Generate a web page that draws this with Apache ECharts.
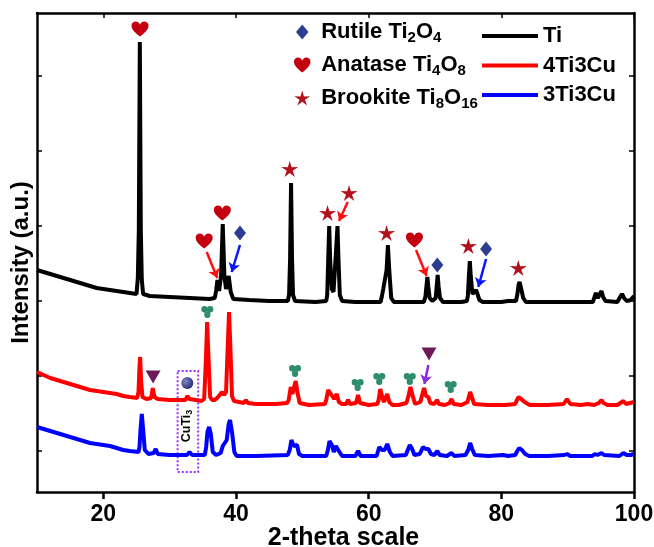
<!DOCTYPE html>
<html>
<head>
<meta charset="utf-8">
<script src="https://cdn.jsdelivr.net/npm/echarts@6/dist/echarts.min.js"></script>
<style>html,body{margin:0;padding:0;background:#fff}#c{width:654px;height:547px}</style>
</head>
<body>
<div id="c"></div>
<script>
// ---- data (2-theta in degrees, intensity in arbitrary units) ----
const xTicks = [20, 40, 60, 80, 100];
const yTicks = [41, 116, 191, 266, 341, 416];

const ti = [
 [10,222],[11,220],[12,218],[13,216],[14,214],[15,212],[16,210],[17,208],[18,206],[19,204],[20,203],[21,202],[22,201],[23,200],[24,199],[25.0,198],
 [25.2,214],[25.35,262],[25.5,450],[25.65,262],[25.8,212],[26.0,198],[27,196],[30,195],[33,194],[36,193],
 [36.8,194],[37.0,201],[37.2,212],[37.45,201],[37.75,216],[38.0,268],[38.25,216],[38.5,203],[38.9,216],[39.2,200],[39.6,193],
 [42,192],[45,191],[47.8,191],[48.0,197],[48.15,232],[48.3,309],[48.45,232],[48.6,197],[48.9,191],
 [52,190],[53.6,191],[53.75,197],[53.9,232],[54.05,266],[54.2,232],[54.45,203],[54.7,200],[55.0,232],[55.3,266],[55.45,232],[55.65,197],[56,191],
 [58,190],[61.8,190],[62.0,196],[62.2,203],[62.45,202],[62.7,222],[62.9,247],[63.1,222],[63.4,194],[63.8,190],
 [66,190],[68.3,190],[68.55,195],[68.7,205],[68.85,215],[69.0,205],[69.2,194],[69.6,191],[70.1,194],[70.25,205],[70.4,217],[70.55,205],[70.75,194],[71.2,190],
 [74,190],[74.8,191],[74.95,196],[75.1,215],[75.25,231],[75.4,215],[75.65,198],[75.9,197],[76.2,202],[76.4,201],[76.7,192],[77.2,190],
 [80,190],[81,191],[82.2,191],[82.4,197],[82.6,207],[82.75,210],[83.0,203],[83.3,194],[83.7,190],
 [87,190],[90,190],[93.8,190],[94.0,194],[94.25,199],[94.55,194],[94.85,196],[95.1,201],[95.35,195],[95.7,191],
 [97.5,190],[97.9,195],[98.2,198],[98.5,194],[98.9,191],[99.5,192],[100,196]
];

const cu4 = [
 [10,120],[11,117],[12,114],[13,112],[14,110],[15,108],[16,106],[17,104],[18,102],[19,101],[20,100],[21,99],[22,98],[23,96],[24,95],[25.1,94],
 [25.3,100],[25.45,125],[25.55,135],[25.7,110],[25.9,95],[26.5,93],[27.2,94],[27.45,104],[27.7,95],[28.2,93],
 [30,92],[32.4,92],[32.65,96],[32.8,98],[33.0,93],[34.8,91],
 [35.2,93],[35.45,130],[35.65,170],[35.85,135],[36.1,95],[36.4,92],[36.8,92],[37.3,95],[37.6,94],[37.9,100],[38.2,97],
 [38.5,100],[38.75,145],[38.95,180],[39.15,145],[39.4,96],[39.7,91],[41.2,89],[41.5,92],[41.8,89],
 [43,88],[46,88],[47.7,89],[47.95,92],[48.25,105],[48.5,98],[48.8,106],[49.0,111],[49.25,100],[49.6,89],
 [51,87],[53.4,88],[53.6,92],[53.9,102],[54.2,99],[54.5,100],[54.8,93],[55.2,98],[55.5,90],[56.0,88],
 [56.6,88],[56.9,92],[57.2,88],[58.1,89],[58.4,97],[58.7,89],[60,87],[61.3,88],
 [61.5,92],[61.75,103],[62.0,96],[62.3,90],[62.8,98],[63.1,90],[63.6,87],[64.5,87],[65.7,89],
 [66.0,96],[66.3,105],[66.6,97],[67.0,88],[67.8,90],[68.1,98],[68.35,104],[68.65,96],[69.0,95],[69.3,89],[69.9,88],[70.3,92],[70.6,88],
 [71.5,87],[72.2,89],[72.5,93],[72.8,88],[74,87],[74.9,90],[75.1,95],[75.3,100],[75.55,95],[75.9,88],
 [78,87],[80,87],[80.3,88],[80.6,87],[82.1,88],[82.35,92],[82.6,95],[83.0,93],[83.5,90],[84.3,87],
 [87,87],[89.4,88],[89.9,93],[90.4,88],[92,87],[93,88],[94.0,87],[94.7,89],[95.1,92],[95.4,89],[96,87],
 [97.5,87],[98.4,91],[98.8,88],[99.4,89],[100,90]
];

const cu3 = [
 [10,65],[11,63],[12,61],[13,59],[14,57],[15,55],[16,53],[17,51],[18,49],[19,48],[20,47],[21,46],[22,44],[23,42],[24,41],[25.3,40],
 [25.45,45],[25.6,62],[25.8,78],[26.0,62],[26.25,42],[26.8,38],[27.6,39],[27.9,43],[28.2,38],
 [30,37],[32.6,37],[33.0,40],[33.4,37],[35.3,37],
 [35.5,45],[35.7,60],[35.95,65],[36.2,58],[36.5,40],[37.0,37],
 [37.7,39],[38.0,46],[38.3,45],[38.6,52],[38.9,68],[39.1,72],[39.4,60],[39.75,40],[40.1,36],
 [43,36],[47.8,37],[48.1,42],[48.35,52],[48.7,46],[49.0,48],[49.2,47],[49.5,38],[50,36],
 [53.6,36],[53.85,42],[54.1,51],[54.45,47],[54.75,40],[55.05,46],[55.3,48],[55.6,40],[56,36],
 [58,36],[58.4,41],[58.8,36],[61.2,36],[61.6,45],[62.0,42],[62.4,42],[62.8,48],[63.2,40],[63.6,36],
 [65.6,37],[65.9,42],[66.2,47],[66.5,44],[66.9,37],[67.7,38],[68.2,45],[68.6,43],[69.0,43],[69.4,38],[69.9,37],
 [70.35,41],[70.7,37],[71.8,36],[72.5,39],[72.9,36],[74.6,37],[75.0,42],[75.3,49],[75.6,43],[76.0,37],
 [78,36],[80.3,37],[81,36],[82.1,37],[82.4,41],[82.7,44],[83.1,42],[83.6,38],[84.2,36],
 [87,36],[89.5,37],[89.9,38],[90.4,36],[93.7,36],[94.1,38],[94.5,37],[95.1,39],[95.5,37],
 [97.8,36],[98.4,39],[98.9,37],[99.5,37],[100,38]
];

// phase markers (position in data coords)
const anatasePts = [[25.53,463],[37.94,279],[35.2,251],[66.9,252]];
const brookitePts = [[48.1,323],[53.8,279],[57.04,299],[62.7,259],[75.03,246],[82.56,224]];
const rutilePts = [[40.6,259],[70.35,227],[77.7,243]];
const cloverPts = [[35.68,180],[48.9,121],[58.34,107],[61.6,113],[66.2,113],[72.37,105]];
const trianglePts = [[27.5,115],[69.1,138]];
const circlePts = [[32.66,109]];
const cuTiLabelPt = [[32.6,66]];
const cuTiBox = [[31.2,121],[34.3,20]];
const redArrows = [[[35.58,240],[37.18,214]],[[56.84,290],[55.53,271]],[[67.14,242],[68.75,216]]];
const blueArrows = [[[40.6,247],[39.35,220]],[[77.7,233],[76.53,205]]];
const violetArrows = [[[69.0,127],[68.4,108]]];

// ---- shapes ----
const heartPath = 'path://M50,92 C20,70 2,50 4,28 C6,8 30,2 42,14 C46,18 48,22 50,26 C52,22 54,18 58,14 C70,2 94,8 96,28 C98,50 80,70 50,92 Z';
const starPath = 'path://M100,0 L120.6,71.7 L195.1,69.1 L133.3,110.8 L158.8,180.9 L100,135 L41.2,180.9 L66.7,110.8 L4.9,69.1 L79.4,71.7 Z';
const diamondPath = 'path://M5,0 L10,6 L5,12 L0,6 Z';
const cloverPath = 'path://M0.5,6 A5.5,5.5 0 1,1 11.5,6 A5.5,5.5 0 1,1 0.5,6 Z M10.5,6 A5.5,5.5 0 1,1 21.5,6 A5.5,5.5 0 1,1 10.5,6 Z M5.5,15 A5.5,5.5 0 1,1 16.5,15 A5.5,5.5 0 1,1 5.5,15 Z';
const lineIcon = 'path://M0,0 L56,0 L56,4 L0,4 Z';

const FONT = '"Liberation Sans", Arial, sans-serif';
const legendNames = {
  'Rutile': '{n|Rutile Ti}{s|2}{n|O}{s|4}',
  'Anatase': '{n|Anatase Ti}{s|4}{n|O}{s|8}',
  'Brookite': '{n|Brookite Ti}{s|8}{n|O}{s|16}'
};

const chart = echarts.init(document.getElementById('c'), null, {renderer: 'canvas'});

function arrowSeries(data, color) {
  return {
    type: 'lines', coordinateSystem: 'cartesian2d', silent: true, z: 4,
    symbol: ['none', 'arrow'], symbolSize: 9,
    lineStyle: {color: color, width: 2.5, opacity: 1, curveness: 0},
    itemStyle: {color: color},
    data: data.map(c => ({coords: c}))
  };
}

const axisLineStyle = {color: '#000', width: 2.5};
const LW = 4;

chart.setOption({
  animation: false,
  backgroundColor: '#fff',
  textStyle: {fontFamily: FONT},
  grid: {left: 37, right: 20, top: 13, bottom: 55, containLabel: false, outerBoundsMode: 'none'},
  xAxis: [
    {
      type: 'value', min: 10, max: 100, position: 'bottom',
      name: '2-theta scale', nameLocation: 'middle', nameGap: 34, nameMoveOverlap: false,
      nameTextStyle: {fontSize: 25, fontWeight: 'bold', color: '#000', fontFamily: FONT, padding: [0, 0, 0, 16]},
      axisLine: {show: true, onZero: false, lineStyle: axisLineStyle},
      axisTick: {show: true, inside: false, length: 7, customValues: xTicks, lineStyle: axisLineStyle},
      axisLabel: {show: true, customValues: xTicks, margin: 11, fontSize: 23, fontWeight: 'bold', color: '#000', fontFamily: FONT},
      splitLine: {show: false}
    },
    {
      type: 'value', min: 10, max: 100, position: 'top',
      axisLine: {show: true, onZero: false, lineStyle: axisLineStyle},
      axisTick: {show: true, inside: true, length: 5, customValues: xTicks, lineStyle: {color: '#000', width: 1.5}},
      axisLabel: {show: false},
      splitLine: {show: false}
    }
  ],
  yAxis: [
    {
      type: 'value', min: 0, max: 479, position: 'left',
      name: 'Intensity (a.u.)', nameLocation: 'middle', nameGap: 4, nameMoveOverlap: false,
      nameTextStyle: {fontSize: 24, fontWeight: 'bold', color: '#000', fontFamily: FONT, padding: [0, 20, 0, 0]},
      axisLine: {show: true, onZero: false, lineStyle: axisLineStyle},
      axisTick: {show: true, inside: true, length: 5, customValues: yTicks, lineStyle: {color: '#000', width: 1.5}},
      axisLabel: {show: false},
      splitLine: {show: false}
    },
    {
      type: 'value', min: 0, max: 479, position: 'right',
      axisLine: {show: true, onZero: false, lineStyle: axisLineStyle},
      axisTick: {show: true, inside: true, length: 5, customValues: yTicks, lineStyle: {color: '#000', width: 1.5}},
      axisLabel: {show: false},
      splitLine: {show: false}
    }
  ],
  legend: [
    {
      orient: 'vertical', left: 289, top: 16, itemWidth: 28, itemHeight: 15, itemGap: 9,
      selectedMode: false,
      data: [
        {name: 'Rutile', icon: diamondPath},
        {name: 'Anatase', icon: heartPath},
        {name: 'Brookite', icon: starPath}
      ],
      formatter: n => legendNames[n],
      textStyle: {
        color: '#000',
        rich: {
          n: {fontSize: 22, fontWeight: 'bold', lineHeight: 26, color: '#000', fontFamily: FONT},
          s: {fontSize: 15, fontWeight: 'bold', lineHeight: 12, verticalAlign: 'bottom', color: '#000', fontFamily: FONT}
        }
      }
    },
    {
      orient: 'vertical', left: 477, top: 19, itemWidth: 56, itemHeight: 4, itemGap: 5.5,
      selectedMode: false,
      data: [
        {name: 'Ti', icon: lineIcon},
        {name: '4Ti3Cu', icon: lineIcon},
        {name: '3Ti3Cu', icon: lineIcon}
      ],
      textStyle: {fontSize: 22, fontWeight: 'bold', color: '#000', lineHeight: 24, fontFamily: FONT}
    }
  ],
  series: [
    {name: 'Ti', type: 'line', data: ti, symbol: 'none', showSymbol: false, color: '#000000', lineStyle: {color: '#000000', width: LW}, z: 2},
    {name: '4Ti3Cu', type: 'line', data: cu4, symbol: 'none', showSymbol: false, color: '#ff0000', lineStyle: {color: '#ff0000', width: LW}, z: 2},
    {name: '3Ti3Cu', type: 'line', data: cu3, symbol: 'none', showSymbol: false, color: '#0000ff', lineStyle: {color: '#0000ff', width: LW}, z: 2},
    {name: 'Rutile', type: 'scatter', data: rutilePts, symbol: diamondPath, symbolSize: [12, 15], itemStyle: {color: '#2b3d8f', opacity: 1}, z: 5, silent: true},
    {name: 'Anatase', type: 'scatter', data: anatasePts, symbol: heartPath, symbolSize: [17, 15], itemStyle: {color: '#c40010', opacity: 1}, z: 5, silent: true},
    {name: 'Brookite', type: 'scatter', data: brookitePts, symbol: starPath, symbolSize: [17, 16], itemStyle: {color: '#b3101c', opacity: 1}, z: 5, silent: true},
    {name: 'clover', type: 'scatter', data: cloverPts, symbol: cloverPath, symbolSize: [12, 12], itemStyle: {color: '#2f8c6c', opacity: 1}, z: 5, silent: true},
    {name: 'triangle', type: 'scatter', data: trianglePts, symbol: 'triangle', symbolRotate: 180, symbolSize: [15, 13], itemStyle: {color: '#6e1a58', opacity: 1}, z: 5, silent: true},
    {name: 'circle', type: 'scatter', data: circlePts, symbol: 'circle', symbolSize: 12, z: 5, silent: true,
      itemStyle: {opacity: 1, color: {type: 'radial', x: 0.35, y: 0.35, r: 0.75, colorStops: [{offset: 0, color: '#7d88c8'}, {offset: 1, color: '#1d2568'}]}}},
    {name: 'CuTi3', type: 'scatter', data: cuTiLabelPt, symbol: 'circle', symbolSize: 1, itemStyle: {color: 'rgba(0,0,0,0)'}, z: 6, silent: true,
      label: {show: true, position: 'inside', rotate: 90, opacity: 1, formatter: '{c|CuTi}{s|3}',
        rich: {
          c: {fontSize: 12.5, fontWeight: 'bold', color: '#000', lineHeight: 15, fontFamily: FONT},
          s: {fontSize: 9, fontWeight: 'bold', color: '#000', lineHeight: 7, verticalAlign: 'bottom', fontFamily: FONT}
        }},
      markArea: {silent: true,
        itemStyle: {color: 'rgba(0,0,0,0)', borderColor: '#9b30ff', borderWidth: 2, borderType: 'dotted'},
        data: [[{coord: cuTiBox[0]}, {coord: cuTiBox[1]}]]}
    },
    arrowSeries(redArrows, '#ff1010'),
    arrowSeries(blueArrows, '#0a14ff'),
    arrowSeries(violetArrows, '#8a2be2')
  ]
});
</script>
</body>
</html>
